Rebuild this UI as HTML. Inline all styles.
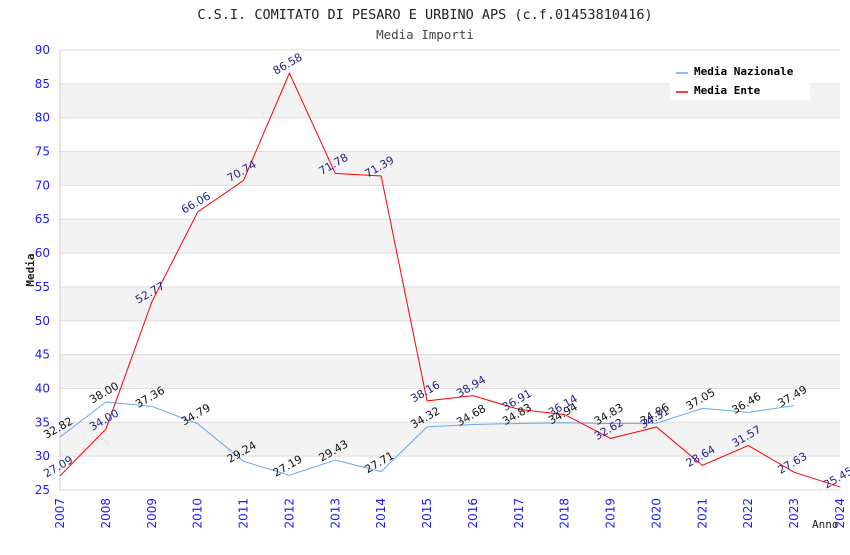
<!DOCTYPE html>
<html><head><meta charset="utf-8"><style>
body{margin:0;background:#fff;width:850px;height:550px;overflow:hidden}
svg text{font-family:"DejaVu Sans","Liberation Sans",sans-serif}
.mono{font-family:"DejaVu Sans Mono","Liberation Mono",monospace}
</style></head><body>
<svg id="chart" width="850" height="550" viewBox="0 0 850 550" xmlns="http://www.w3.org/2000/svg">
<text class="mono" x="425" y="19" text-anchor="middle" font-size="13.5" fill="#222">C.S.I. COMITATO DI PESARO E URBINO APS (c.f.01453810416)</text>
<text class="mono" x="425" y="39" text-anchor="middle" font-size="12.5" fill="#444">Media Importi</text>
<g id="grid"></g><g id="axes"></g><g id="series"></g><g id="labels"></g>
<text class="mono" transform="translate(34,270) rotate(-90)" text-anchor="middle" font-size="11" font-weight="bold" fill="#222">Media</text>
<text class="mono" x="812" y="528" font-size="11" fill="#222">Anno</text>
<g>
<rect x="670" y="60" width="140" height="40" fill="#fff"/>
<line x1="676" y1="73" x2="688" y2="73" stroke="#6aa8f0" stroke-width="1.5"/>
<text class="mono" x="694" y="75" font-size="11" font-weight="bold" fill="#000">Media Nazionale</text>
<line x1="676" y1="92" x2="688" y2="92" stroke="#ff0000" stroke-width="1.5"/>
<text class="mono" x="694" y="94" font-size="11" font-weight="bold" fill="#000">Media Ente</text>
</g>
</svg>
<script>
const years=[2007,2008,2009,2010,2011,2012,2013,2014,2015,2016,2017,2018,2019,2020,2021,2022,2023,2024];
const nazionale=[32.82,38.00,37.36,34.79,29.24,27.19,29.43,27.71,34.32,34.68,34.83,34.94,34.83,34.86,37.05,36.46,37.49];
const ente=[27.09,34.00,52.77,66.06,70.74,86.58,71.78,71.39,38.16,38.94,36.91,36.14,32.62,34.31,28.64,31.57,27.63,25.45];
const yTicks=[25,30,35,40,45,50,55,60,65,70,75,80,85,90];
const X0=60,X1=840,Y0=490,Y1=50,ymin=25,ymax=90;
const NS="http://www.w3.org/2000/svg";
const xS=i=>X0+(X1-X0)*i/(years.length-1);
const yS=v=>Y0-(v-ymin)/(ymax-ymin)*(Y0-Y1);
function mk(t,a,p){const e=document.createElementNS(NS,t);for(const k in a)e.setAttribute(k,a[k]);p.appendChild(e);return e;}
const grid=document.getElementById('grid'),axes=document.getElementById('axes'),ser=document.getElementById('series'),lab=document.getElementById('labels');
for(let i=0;i<yTicks.length-1;i++){
  if(i%2==1){const r=mk('rect',{x:X0,y:yS(yTicks[i+1]),width:X1-X0,height:yS(yTicks[i])-yS(yTicks[i+1]),fill:'#f3f3f3'},grid);
  
  }
}
yTicks.forEach(v=>{
  const l=mk('line',{x1:X0,x2:X1,y1:yS(v),y2:yS(v),stroke:'#dddddd','stroke-width':1},grid);
  
  
  const t=mk('text',{x:50,y:yS(v)+4,'text-anchor':'end','font-size':12,fill:'#1a1aff'},axes);t.textContent=v;
  
  
});
const ax=mk('line',{x1:X0,x2:X0,y1:Y1,y2:Y0,stroke:'#ccc'},axes);


years.forEach((y,i)=>{
  const t=mk('text',{transform:`translate(${xS(i)+4},${Y0+8}) rotate(-90)`,'text-anchor':'end','font-size':12,fill:'#1a1aff'},axes);t.textContent=y;
  
  
});
function drawSeries(data,color,lc,name){
  const pts=data.map((v,i)=>xS(i)+','+yS(v)).join(' ');
  const p=mk('polyline',{points:pts,fill:'none',stroke:color,'stroke-width':1},ser);
  
  
  data.forEach((v,i)=>{
    const t=mk('text',{transform:`translate(${xS(i)},${yS(v)-6}) rotate(-30)`,'text-anchor':'middle','font-size':11,fill:lc},lab);
    t.textContent=v.toFixed(2);
    
    
  });
}
drawSeries(nazionale,'#6aa8f0','#111','nazionale');
drawSeries(ente,'#ff0000','#22228a','ente');
</script>
</body></html>
